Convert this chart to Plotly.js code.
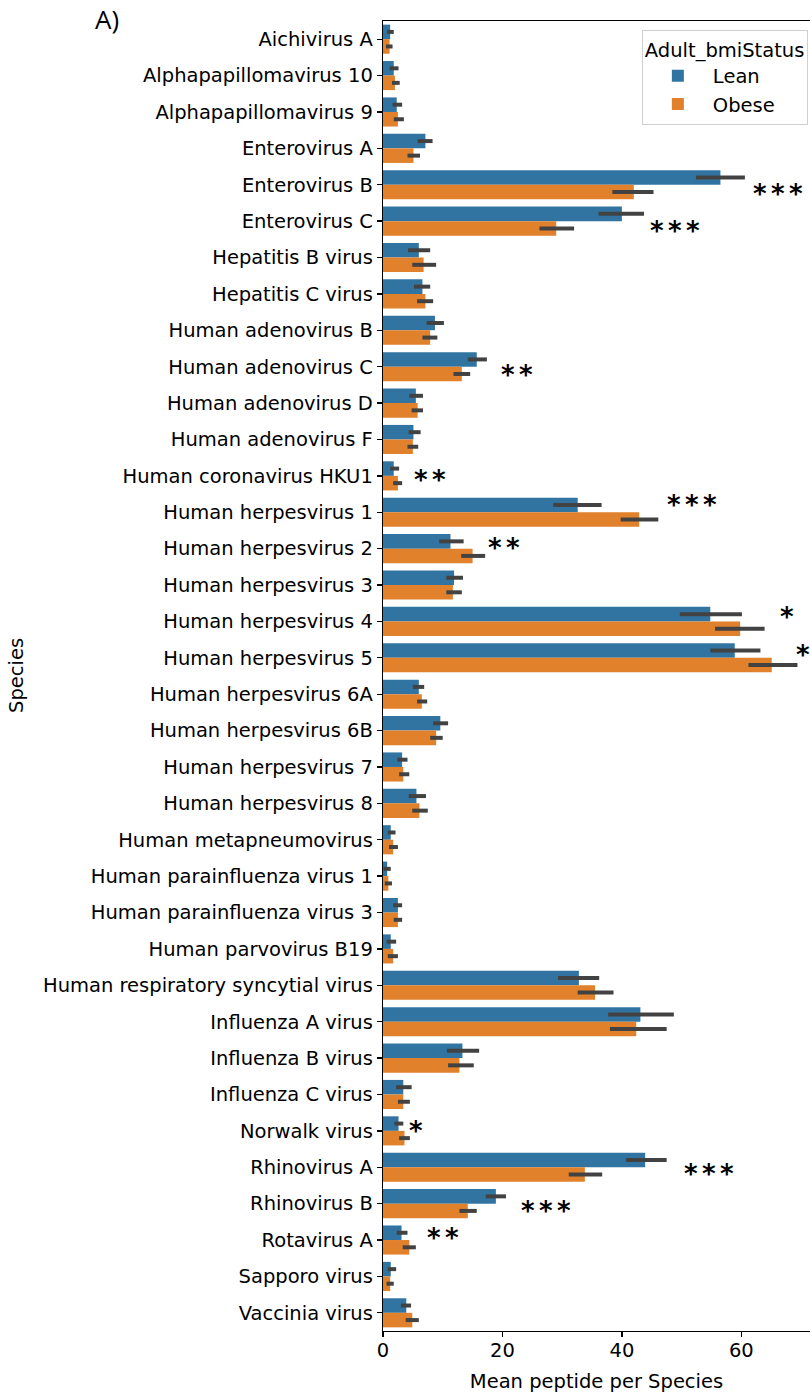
<!DOCTYPE html>
<html>
<head>
<meta charset="utf-8">
<script src="https://cdn.plot.ly/plotly-3.0.1.min.js"></script>
<style>html,body{margin:0;padding:0;background:#fff;}#chart{width:810px;height:1393px;}</style>
</head>
<body>
<div id="chart"></div>
<script>
const categories = ['Aichivirus A','Alphapapillomavirus 10','Alphapapillomavirus 9','Enterovirus A','Enterovirus B','Enterovirus C','Hepatitis B virus','Hepatitis C virus','Human adenovirus B','Human adenovirus C','Human adenovirus D','Human adenovirus F','Human coronavirus HKU1','Human herpesvirus 1','Human herpesvirus 2','Human herpesvirus 3','Human herpesvirus 4','Human herpesvirus 5','Human herpesvirus 6A','Human herpesvirus 6B','Human herpesvirus 7','Human herpesvirus 8','Human metapneumovirus','Human parainfluenza virus 1','Human parainfluenza virus 3','Human parvovirus B19','Human respiratory syncytial virus','Influenza A virus','Influenza B virus','Influenza C virus','Norwalk virus','Rhinovirus A','Rhinovirus B','Rotavirus A','Sapporo virus','Vaccinia virus'];

const lean   = [1.2, 1.8, 2.3, 7.1, 56.5, 40.0, 6.0, 6.6, 8.7, 15.7, 5.5, 5.1, 1.8, 32.6, 11.3, 11.9, 54.8, 58.9, 6.0, 9.6, 3.2, 5.6, 1.3, 0.7, 2.5, 1.3, 32.8, 43.1, 13.3, 3.4, 2.6, 43.9, 18.9, 3.1, 1.3, 3.9];
const leanLo = [0.7, 1.1, 1.6, 5.8, 52.4, 36.1, 4.2, 5.2, 7.3, 14.2, 4.4, 4.3, 1.2, 28.5, 9.4, 10.6, 49.7, 54.8, 5.0, 8.4, 2.4, 4.3, 0.8, 0.1, 1.7, 0.6, 29.3, 37.7, 10.7, 2.2, 1.9, 40.7, 17.2, 2.3, 0.8, 3.0];
const leanHi = [1.8, 2.6, 3.2, 8.3, 60.6, 43.7, 7.9, 7.9, 10.2, 17.4, 6.7, 6.3, 2.7, 36.6, 13.5, 13.4, 60.1, 63.2, 6.9, 10.9, 4.1, 7.2, 2.1, 1.3, 3.2, 2.2, 36.2, 48.7, 16.1, 4.8, 3.4, 47.5, 20.6, 4.1, 2.2, 4.7];

const obese   = [1.1, 2.0, 2.5, 5.1, 42.0, 29.0, 6.8, 7.1, 7.9, 13.2, 5.8, 5.0, 2.5, 42.9, 15.0, 11.7, 59.8, 65.1, 6.5, 8.9, 3.4, 6.1, 1.7, 0.9, 2.5, 1.7, 35.5, 42.4, 12.8, 3.4, 3.6, 33.8, 14.2, 4.4, 1.2, 4.9];
const obeseLo = [0.5, 1.5, 1.8, 4.1, 38.4, 26.2, 4.9, 5.7, 6.6, 11.8, 4.8, 4.1, 1.7, 39.8, 13.1, 10.6, 55.6, 61.2, 5.7, 7.9, 2.7, 4.9, 1.0, 0.3, 1.8, 0.8, 32.6, 38.0, 10.9, 2.5, 2.7, 31.1, 12.8, 3.3, 0.6, 3.8];
const obeseHi = [1.6, 2.8, 3.5, 6.2, 45.3, 32.0, 8.9, 8.4, 9.1, 14.6, 6.7, 5.9, 3.2, 46.1, 17.1, 13.2, 63.9, 69.4, 7.4, 10.0, 4.4, 7.5, 2.5, 1.5, 3.2, 2.5, 38.6, 47.5, 15.2, 4.5, 4.5, 36.7, 15.7, 5.5, 1.8, 6.0];

const starSpecies = ['Enterovirus B','Enterovirus C','Human adenovirus C','Human coronavirus HKU1','Human herpesvirus 1','Human herpesvirus 2','Human herpesvirus 4','Human herpesvirus 5','Norwalk virus','Rhinovirus A','Rhinovirus B','Rotavirus A'];
const starText    = ['***','***','**','**','***','**','*','*','*','***','***','**'];
const starX       = [61.7, 44.3, 19.5, 4.8, 47.3, 17.3, 66.1, 68.8, 4.0, 50.0, 22.7, 6.95];
const starOffset  = [0.16, 0.19, 0.14, 0.03, -0.29, -0.10, -0.21, -0.16, -0.08, 0.11, 0.13, -0.14];

const xTicks = [0, 20, 40, 60];

const FONT = 'DejaVu Sans, sans-serif';
const errColor = '#424242';

function diff(a, b) { return a.map((v, i) => v - b[i]); }

const traces = [
  {
    type: 'bar', orientation: 'h', name: 'Lean',
    y: categories, x: lean,
    marker: {color: '#3274a1', line: {width: 0}},
    error_x: {type: 'data', symmetric: false, array: diff(leanHi, lean), arrayminus: diff(lean, leanLo),
              color: errColor, thickness: 4, width: 0}
  },
  {
    type: 'bar', orientation: 'h', name: 'Obese',
    y: categories, x: obese,
    marker: {color: '#e1812c', line: {width: 0}},
    error_x: {type: 'data', symmetric: false, array: diff(obeseHi, obese), arrayminus: diff(obese, obeseLo),
              color: errColor, thickness: 4, width: 0}
  }
];

const annotations = starSpecies.map((sp, i) => ({
  xref: 'x', yref: 'y',
  x: starX[i], y: categories.indexOf(sp) + starOffset[i],
  text: '<b>' + starText[i].split('').join('\u2006') + '</b>',
  showarrow: false, xanchor: 'left', yanchor: 'middle', yshift: -3,
  font: {family: FONT, size: 26, color: '#000'}
}));

annotations.push({
  xref: 'paper', yref: 'paper', x: (16 - 383) / 427, y: 0.5,
  text: 'Species', textangle: -90, showarrow: false,
  xanchor: 'center', yanchor: 'middle',
  font: {family: FONT, size: 19.5, color: '#000'}
});

const layout = {
  width: 810, height: 1393,
  margin: {l: 383, r: 0, t: 21, b: 62},
  paper_bgcolor: '#fff', plot_bgcolor: '#fff',
  font: {family: FONT, size: 19.5, color: '#000'},
  barmode: 'group', bargap: 0.2, bargroupgap: 0,
  showlegend: true,
  title: {text: 'A)', x: 95/810, xanchor: 'left', xref: 'container', y: 1 - 20/1393, yanchor: 'middle', yref: 'container',
          font: {family: 'Open Sans, sans-serif', size: 26, color: '#000'}},
  xaxis: {
    range: [0, 71.5], tickvals: xTicks, ticktext: xTicks.map(String),
    ticks: 'outside', ticklen: 5, tickwidth: 1.3, tickcolor: '#000',
    showline: true, linecolor: '#000', linewidth: 1.3, mirror: true,
    showgrid: false, zeroline: false, ticklabelstandoff: -4,
    tickfont: {family: FONT, size: 19.5, color: '#000'},
    title: {text: 'Mean peptide per Species', font: {family: FONT, size: 19.5, color: '#000'}}
  },
  yaxis: {
    type: 'category', categoryorder: 'array', categoryarray: categories,
    range: [categories.length - 0.5, -0.5],
    ticks: 'outside', ticklen: 5, tickwidth: 1.3, tickcolor: '#000',
    showline: true, linecolor: '#000', linewidth: 1.3,
    showgrid: false, zeroline: false,
    tickfont: {family: FONT, size: 19.5, color: '#000'}
  },
  legend: {
    x: 0.995, xanchor: 'right', y: 0.993, yanchor: 'top',
    bgcolor: '#fff', bordercolor: '#d0d0d0', borderwidth: 1,
    font: {family: FONT, size: 19.5, color: '#000'},
    title: {text: 'Adult_bmiStatus', side: 'top', font: {family: FONT, size: 19.5, color: '#000'}},
    traceorder: 'normal', itemwidth: 60
  },
  annotations: annotations
};

Plotly.newPlot('chart', traces, layout, {displayModeBar: false, staticPlot: true});
</script>
</body>
</html>
